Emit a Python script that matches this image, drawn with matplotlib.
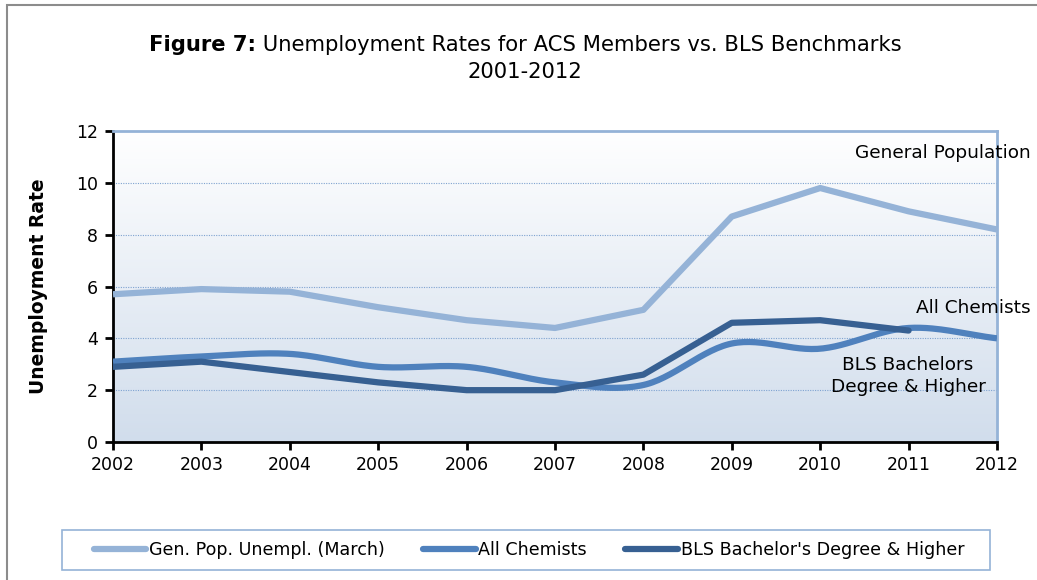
import numpy as np
import matplotlib
matplotlib.use("Agg")
import matplotlib.pyplot as plt
from matplotlib.patches import Rectangle
from matplotlib.lines import Line2D

years = [2002, 2003, 2004, 2005, 2006, 2007, 2008, 2009, 2010, 2011, 2012]
gen_pop = [5.7, 5.9, 5.8, 5.2, 4.7, 4.4, 5.1, 8.7, 9.8, 8.9, 8.2]
all_chemists = [3.1, 3.3, 3.4, 2.9, 2.9, 2.3, 2.2, 3.8, 3.6, 4.4, 4.0]
bls_years = [2002, 2003, 2004, 2005, 2006, 2007, 2008, 2009, 2010, 2011]
bls_bachelor = [2.9, 3.1, 2.7, 2.3, 2.0, 2.0, 2.6, 4.6, 4.7, 4.3]
legend_labels = ["Gen. Pop. Unempl. (March)", "All Chemists", "BLS Bachelor's Degree & Higher"]

c_gen = "#95B3D7"
c_chem = "#4F81BD"
c_bls = "#376092"
frame_blue = "#95B3D7"

W, H = 1037, 580


def fx(px):
    return px / W


def fy(py):
    return 1 - py / H


def smooth(x, y, n=30):
    """Catmull-Rom spline through the points (smoothed line)."""
    x = np.asarray(x, float)
    y = np.asarray(y, float)
    px = np.concatenate([[2 * x[0] - x[1]], x, [2 * x[-1] - x[-2]]])
    py = np.concatenate([[2 * y[0] - y[1]], y, [2 * y[-1] - y[-2]]])
    xs, ys = [], []
    t = np.linspace(0, 1, n, endpoint=False)
    for i in range(1, len(px) - 2):
        for arr, out in ((px, xs), (py, ys)):
            p0, p1, p2, p3 = arr[i - 1], arr[i], arr[i + 1], arr[i + 2]
            out.extend(0.5 * ((2 * p1) + (-p0 + p2) * t
                              + (2 * p0 - 5 * p1 + 4 * p2 - p3) * t ** 2
                              + (-p0 + 3 * p1 - 3 * p2 + p3) * t ** 3))
    xs.append(x[-1])
    ys.append(y[-1])
    return np.array(xs), np.array(ys)


fig = plt.figure(figsize=(W / 100, H / 100), dpi=100)

# outer frame of the figure
fig.patches.append(Rectangle((fx(7), -0.1), 1.2, fy(5) + 0.1,
                             transform=fig.transFigure, fill=False,
                             edgecolor="#8C8C8C", linewidth=1.5))

ax = fig.add_axes([fx(113), fy(442), (997 - 113) / W, (442 - 131) / H])

# gradient background of the plot area
grad = np.linspace(0, 1, 256)[:, None]
top = np.array([1.0, 1.0, 1.0])
bottom = np.array([0xD1, 0xDD, 0xEC]) / 255
img = top[None, None, :] * (1 - grad[:, :, None]) + bottom[None, None, :] * grad[:, :, None]
ax.imshow(img, extent=[2002, 2012, 0, 12], aspect="auto", origin="upper", zorder=0)

ax.set_xlim(2002, 2012)
ax.set_ylim(0, 12)

for yv in [2, 4, 6, 8, 10]:
    ax.axhline(yv, color="#7FA3D0", linewidth=0.8, linestyle=(0, (1, 1.2)), zorder=1)

lw = 4.5
ax.plot(years, gen_pop, color=c_gen, linewidth=lw, solid_capstyle="butt",
        solid_joinstyle="round", zorder=3)
cx, cy = smooth(years, all_chemists)
ax.plot(cx, cy, color=c_chem, linewidth=lw, solid_capstyle="butt", zorder=4)
ax.plot(bls_years, bls_bachelor, color=c_bls, linewidth=lw, solid_capstyle="round",
        solid_joinstyle="round", zorder=5)

for side in ("left", "bottom"):
    ax.spines[side].set_color("black")
    ax.spines[side].set_linewidth(2)
for side in ("top", "right"):
    ax.spines[side].set_color(frame_blue)
    ax.spines[side].set_linewidth(2)

ax.set_xticks(years)
ax.set_xticklabels([str(y) for y in years])
ax.set_yticks(range(0, 13, 2))
ax.tick_params(axis="both", direction="out", length=6, width=2, labelsize=12.5, color="black")
ax.tick_params(axis="x", pad=4)
ax.tick_params(axis="y", pad=5)

ax.set_ylabel("Unemployment Rate", fontsize=13.5, fontweight="bold", labelpad=20)

# series labels
fig.text(fx(1031), fy(153), "General Population", fontsize=13.3, ha="right", va="center")
fig.text(fx(1031), fy(308), "All Chemists", fontsize=13.3, ha="right", va="center")
fig.text(fx(908), fy(376), "BLS Bachelors\nDegree & Higher", fontsize=13.3,
         ha="center", va="center", linespacing=1.3)

# title: bold prefix followed by regular text, centred as a whole
t_bold = fig.text(0, fy(45), "Figure 7:", fontsize=15.2, fontweight="bold",
                  ha="left", va="center")
t_rest = fig.text(0, fy(45), " Unemployment Rates for ACS Members vs. BLS Benchmarks",
                  fontsize=15.2, ha="left", va="center")
fig.text(fx(525), fy(72), "2001-2012", fontsize=15.2, ha="center", va="center")
fig.canvas.draw()
r = fig.canvas.get_renderer()
wb = t_bold.get_window_extent(r).width
wr = t_rest.get_window_extent(r).width
start = 525 - (wb + wr) / 2
t_bold.set_x(fx(start))
t_rest.set_x(fx(start + wb))

# legend box
fig.patches.append(Rectangle((fx(62), fy(570)), (990 - 62) / W, 40 / H,
                             transform=fig.transFigure, fill=False,
                             edgecolor=frame_blue, linewidth=1.2))
handles = [Line2D([], [], color=c_gen, linewidth=lw, solid_capstyle="round"),
           Line2D([], [], color=c_chem, linewidth=lw, solid_capstyle="round"),
           Line2D([], [], color=c_bls, linewidth=lw, solid_capstyle="round")]
fig.legend(handles, legend_labels, ncol=3, loc="center",
           bbox_to_anchor=(fx(529), fy(550)), frameon=False, fontsize=12.6,
           handlelength=3.0, handletextpad=0.15, columnspacing=2.2)

fig.savefig("out.png", dpi=100)
